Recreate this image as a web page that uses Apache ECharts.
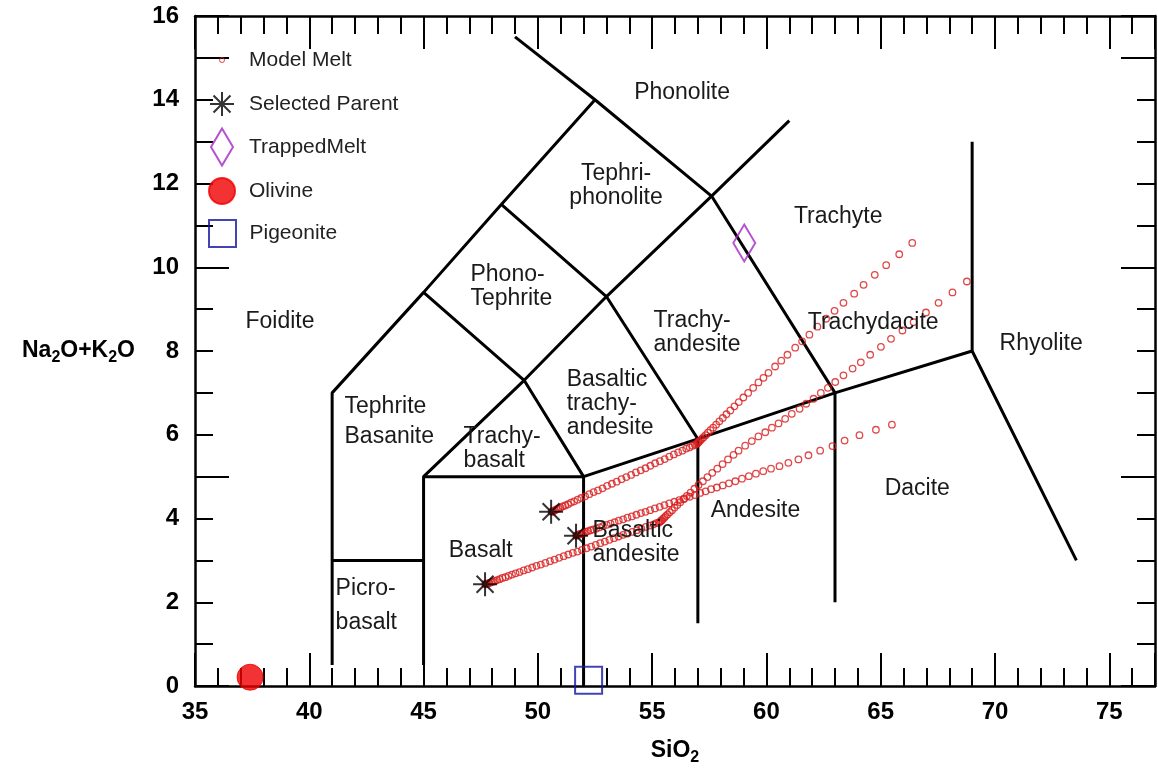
<!DOCTYPE html>
<html><head><meta charset="utf-8">
<script src="https://cdn.jsdelivr.net/npm/echarts@6/dist/echarts.min.js"></script>
<style>html,body{margin:0;padding:0;background:#fff}#c{width:1158px;height:771px}</style>
</head><body><div id="c"></div>
<script>
// ---------- data ----------
const xTickLabels = [35, 40, 45, 50, 55, 60, 65, 70, 75];
const yTickLabels = [0, 2, 4, 6, 8, 10, 12, 14, 16];

const modelMeltA = [
[50.60,4.16],[50.64,4.17],[50.69,4.18],[50.75,4.20],[50.82,4.22],[50.90,4.24],[50.99,4.26],[51.09,4.29],
[51.20,4.31],[51.32,4.34],[51.45,4.38],[51.59,4.41],[51.74,4.45],[51.90,4.49],[52.07,4.53],[52.25,4.58],
[52.44,4.63],[52.63,4.67],[52.83,4.72],[53.03,4.78],[53.24,4.83],[53.45,4.88],[53.66,4.94],[53.87,4.99],
[54.08,5.04],[54.29,5.10],[54.50,5.15],[54.71,5.20],[54.92,5.26],[55.13,5.32],[55.34,5.37],[55.55,5.42],
[55.75,5.48],[55.95,5.53],[56.14,5.58],[56.32,5.62],[56.49,5.67],[56.64,5.70],[56.77,5.74],[56.87,5.76],
[56.94,5.78],[56.99,5.80],[57.02,5.82],[57.05,5.84],[57.10,5.86],[57.17,5.90],[57.25,5.94],[57.34,5.99],
[57.44,6.05],[57.55,6.11],[57.67,6.17],[57.80,6.24],[57.94,6.32],[58.09,6.40],[58.25,6.49],[58.42,6.58],
[58.60,6.68],[58.79,6.78],[58.99,6.89],[59.20,7.00],[59.42,7.12],[59.65,7.25],[59.87,7.36],[60.09,7.48],
[60.38,7.63],[60.65,7.77],[60.92,7.91],[61.26,8.08],[61.56,8.23],[61.88,8.39],[62.23,8.58],[62.61,8.77],
[62.98,8.96],[63.37,9.15],[63.84,9.37],[64.25,9.58],[64.74,9.82],[65.24,10.05],[65.81,10.31],[66.38,10.58]
];
const modelMeltB = [
[51.68,3.59],[51.71,3.60],[51.75,3.61],[51.80,3.62],[51.86,3.63],[51.93,3.64],[52.01,3.66],[52.10,3.68],
[52.20,3.70],[52.31,3.72],[52.43,3.74],[52.56,3.76],[52.70,3.79],[52.85,3.82],[53.01,3.85],[53.18,3.88],
[53.36,3.91],[53.54,3.95],[53.73,3.98],[53.92,4.02],[54.11,4.05],[54.31,4.09],[54.51,4.13],[54.71,4.16],
[54.91,4.20],[55.12,4.24],[55.33,4.28],[55.54,4.32],[55.75,4.36],[55.97,4.40],[56.19,4.44],[56.41,4.48],
[56.64,4.52],[56.87,4.56],[57.10,4.61],[57.34,4.65],[57.58,4.70],[57.83,4.74],[58.09,4.79],[58.36,4.84],
[58.64,4.89],[58.93,4.95],[59.23,5.01],[59.54,5.07],[59.86,5.13],[60.20,5.19],[60.57,5.25],[60.96,5.33],
[61.40,5.41],[61.84,5.51],[62.35,5.62],[62.89,5.73],[63.42,5.86],[64.07,5.99],[64.79,6.12],[65.49,6.24]
];
const modelMeltC = [
[47.70,2.43],[47.73,2.44],[47.77,2.44],[47.82,2.45],[47.88,2.46],[47.95,2.48],[48.03,2.49],[48.12,2.51],
[48.22,2.53],[48.33,2.55],[48.45,2.58],[48.58,2.60],[48.72,2.63],[48.87,2.66],[49.03,2.69],[49.20,2.72],
[49.38,2.76],[49.56,2.79],[49.75,2.83],[49.94,2.87],[50.13,2.90],[50.33,2.94],[50.53,2.98],[50.73,3.02],
[50.93,3.06],[51.13,3.10],[51.33,3.14],[51.53,3.18],[51.73,3.21],[51.93,3.25],[52.13,3.29],[52.33,3.33],
[52.53,3.37],[52.73,3.41],[52.93,3.45],[53.13,3.49],[53.33,3.53],[53.53,3.57],[53.73,3.61],[53.93,3.64],
[54.13,3.68],[54.33,3.72],[54.53,3.76],[54.72,3.80],[54.90,3.83],[55.06,3.86],[55.19,3.89],[55.28,3.90],
[55.34,3.92],[55.38,3.94],[55.42,3.96],[55.47,3.99],[55.53,4.02],[55.60,4.06],[55.68,4.10],[55.77,4.15],
[55.87,4.20],[55.98,4.26],[56.10,4.32],[56.23,4.39],[56.37,4.46],[56.52,4.54],[56.68,4.62],[56.85,4.71],
[57.03,4.80],[57.22,4.89],[57.42,4.99],[57.63,5.09],[57.85,5.19],[58.08,5.30],[58.32,5.41],[58.56,5.52],
[58.78,5.62],[59.07,5.74],[59.36,5.85],[59.65,5.96],[59.95,6.06],[60.24,6.17],[60.53,6.27],[60.82,6.38],
[61.11,6.50],[61.45,6.62],[61.74,6.74],[62.06,6.86],[62.38,7.00],[62.69,7.12],[63.01,7.26],[63.37,7.42],
[63.77,7.58],[64.13,7.73],[64.54,7.91],[65.01,8.10],[65.45,8.29],[65.95,8.49],[66.44,8.69],[66.98,8.92],
[67.53,9.15],[68.14,9.40],[68.77,9.66]
];
const selectedParent = [[50.58,4.16],[51.67,3.59],[47.69,2.43]];
const trappedMelt = [[59.03,10.58]];
const olivine = [[37.41,0.21]];
const pigeonite = [[52.22,0.14]];

// TAS field boundaries
const boundaries = [
  [[41,0.5],[41,7],[45,9.4],[48.4,11.5],[52.5,14],[57.6,11.7],[63,7],[63,2]],
  [[41,3],[45,3]],
  [[45,0.5],[45,5],[49.4,7.3],[53,9.3],[57.6,11.7],[61,13.5]],
  [[45,5],[52,5],[52,0]],
  [[45,9.4],[49.4,7.3],[52,5],[57,5.9],[63,7],[69,8]],
  [[48.4,11.5],[53,9.3],[57,5.9],[57,1.5]],
  [[52.5,14],[49.0,15.5]],
  [[69,13],[69,8],[73.56,3]]
];

const regionNames = ['Phonolite','Tephri-\nphonolite','Trachyte','Phono-\nTephrite','Foidite','Trachy-\nandesite',
  'Trachydacite','Rhyolite','Basaltic\ntrachy-\nandesite','Tephrite\nBasanite','Trachy-\nbasalt','Dacite',
  'Andesite','Basaltic\nandesite','Basalt','Picro-\nbasalt'];
const regionX = [56.31,53.42,63.14,47.03,38.72,55.04,64.67,72.02,51.24,41.52,46.73,66.60,57.54,52.37,47.50,41.13];
const regionY = [14.17,11.94,11.20,9.53,8.70,8.45,8.68,8.18,6.75,6.32,5.66,4.71,4.18,3.42,3.23,1.93];

const legendNames = ['Model Melt','Selected Parent','TrappedMelt','Olivine','Pigeonite'];

// ---------- styling / build ----------
const F = "'Liberation Sans', Arial, sans-serif";
const leftAligned = {'Phono-\nTephrite':1,'Trachy-\nandesite':1,'Basaltic\ntrachy-\nandesite':1,'Tephrite\nBasanite':1,
  'Trachy-\nbasalt':1,'Andesite':1,'Basaltic\nandesite':1,'Picro-\nbasalt':1};
const lineHeights = {'Tephrite\nBasanite':30,'Picro-\nbasalt':34};

const STAR = 'path://M12,0L12,24M0,12L24,12M3.5,3.5L20.5,20.5M3.5,20.5L20.5,3.5';
const DIAMOND = 'path://M11,0L22,18.5L11,37L0,18.5Z';
const SQUARE = 'path://M0,0L26,0L26,26L0,26Z';
const CLEAR = 'rgba(0,0,0,0)';
const MELT_RED = '#d81c1c';

const chart = echarts.init(document.getElementById('c'), null, {renderer: 'canvas'});

function xAx(pos, interval, len, showLine, showLabel, extra) {
  return Object.assign({
    type: 'value', position: pos, min: 35, max: 77, interval: interval,
    splitLine: {show: false},
    axisLine: {show: showLine, onZero: false, lineStyle: {color: '#000', width: 2.5}},
    axisTick: {show: true, inside: true, length: len, lineStyle: {color: '#000', width: 2}},
    axisLabel: {show: showLabel, interval: 0, margin: 14, color: '#000', fontSize: 24, fontWeight: 'bold', fontFamily: F,
      formatter: v => xTickLabels.indexOf(v) >= 0 ? String(v) : ''}
  }, extra || {});
}
function yAx(pos, interval, len, showLine, showLabel, extra) {
  return Object.assign({
    type: 'value', position: pos, min: 0, max: 16, interval: interval,
    splitLine: {show: false},
    axisLine: {show: showLine, onZero: false, lineStyle: {color: '#000', width: 2.5}},
    axisTick: {show: true, inside: true, length: len, lineStyle: {color: '#000', width: 2}},
    axisLabel: {show: showLabel, interval: 0, margin: 16, color: '#000', fontSize: 24, fontWeight: 'bold', fontFamily: F,
      formatter: v => yTickLabels.indexOf(v) >= 0 ? String(v) : ''}
  }, extra || {});
}
const nameRich = {
  a: {fontSize: 23, fontWeight: 'bold', fontFamily: F, color: '#000', lineHeight: 30},
  s: {fontSize: 16, fontWeight: 'bold', fontFamily: F, color: '#000', lineHeight: 16, verticalAlign: 'bottom'}
};

const series = [];
boundaries.forEach(b => series.push({
  type: 'line', data: b, symbol: 'none', silent: true, z: 2, animation: false,
  lineStyle: {color: '#000', width: 3}
}));
[modelMeltA, modelMeltB, modelMeltC].forEach(d => series.push({
  name: 'Model Melt', type: 'scatter', data: d, symbol: 'circle', symbolSize: 6.5, z: 3, clip: false,
  itemStyle: {color: CLEAR, borderColor: MELT_RED, borderWidth: 1.3}
}));
series.push({name: 'Selected Parent', type: 'scatter', data: selectedParent, symbol: STAR, symbolSize: 24, z: 5, clip: false,
  itemStyle: {color: CLEAR, borderColor: '#000', borderWidth: 2}});
series.push({name: 'TrappedMelt', type: 'scatter', data: trappedMelt, symbol: DIAMOND, symbolSize: [22, 37], z: 5, clip: false,
  itemStyle: {color: CLEAR, borderColor: '#a425c4', borderWidth: 2}});
series.push({name: 'Olivine', type: 'scatter', data: olivine, symbol: 'circle', symbolSize: 26, z: 5, clip: false,
  itemStyle: {color: '#f00000', borderColor: '#f00000', borderWidth: 1}});
series.push({name: 'Pigeonite', type: 'scatter', data: pigeonite, symbol: SQUARE, symbolSize: 27, z: 5, clip: false,
  itemStyle: {color: CLEAR, borderColor: '#1414a0', borderWidth: 2}});
series.push({
  type: 'scatter', silent: true, z: 6, symbol: 'circle', symbolSize: 1,
  itemStyle: {color: CLEAR, borderWidth: 0},
  data: regionNames.map((n, i) => {
    const left = !!leftAligned[n];
    return {
      value: [regionX[i], regionY[i]],
      label: {
        show: true, formatter: n, position: left ? 'right' : 'inside', distance: 0,
        align: left ? 'left' : 'center', verticalAlign: 'middle', opacity: 1,
        color: '#1a1a1a', fontSize: 23, fontFamily: F, lineHeight: lineHeights[n] || 24
      }
    };
  })
});

const legendLefts = [219, 209, 210, 208, 208];
const legendTops = [47, 91, 127.5, 177, 219];
const legendHeights = [5, 24, 37, 26, 27];
const legends = legendNames.map((n, i) => ({
  data: [i === 0 ? {name: n, itemStyle: {borderWidth: 1}} : n],
  left: legendLefts[i], top: legendTops[i], padding: 0, itemWidth: 44, itemHeight: legendHeights[i],
  selectedMode: false, symbolKeepAspect: true,
  textStyle: {fontSize: 21, color: '#222', fontFamily: F, lineHeight: 26}
}));

chart.setOption({
  animation: false,
  backgroundColor: '#fff',
  grid: {left: 195, right: 3, top: 16, bottom: 82, containLabel: false},
  legend: legends,
  xAxis: [
    xAx('bottom', 1, 18, true, true, {name: '{a|SiO}{s|2}', nameLocation: 'middle', nameGap: 50,
      nameTextStyle: {rich: nameRich}}),
    xAx('bottom', 5, 33, false, false),
    xAx('top', 1, 18, true, false),
    xAx('top', 5, 33, false, false)
  ],
  yAxis: [
    yAx('left', 1, 18, true, true, {name: '{a|Na}{s|2}{a|O+K}{s|2}{a|O}', nameLocation: 'middle', nameGap: 60,
      nameRotate: 0, nameTextStyle: {rich: nameRich}}),
    yAx('left', 5, 34, false, false),
    yAx('right', 1, 18, true, false),
    yAx('right', 5, 34, false, false)
  ],
  series: series
});
</script>
</body></html>
